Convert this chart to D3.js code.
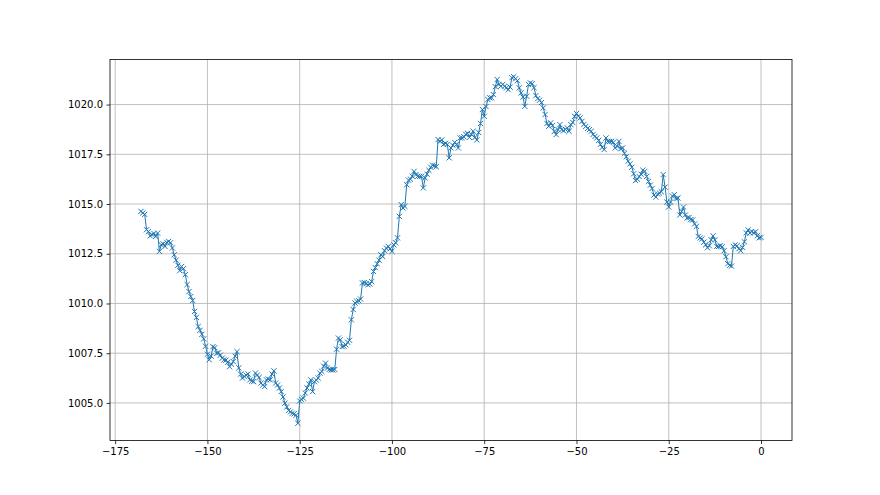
<!DOCTYPE html>
<html>
<head>
<meta charset="utf-8">
<script src="https://cdn.jsdelivr.net/npm/d3@7"></script>
<style>
  html, body { margin: 0; padding: 0; background: #fff; }
  svg { display: block; }
  .tick text { font-family: "DejaVu Sans", sans-serif; font-size: 10px; fill: #000; }
</style>
</head>
<body>
<svg id="chart" width="880" height="495"></svg>
<script>
// Pressure readings, one every half unit from -168 to 0
const pressure = [
  1014.63,1014.55,1014.48,1013.71,1013.62,1013.40,1013.46,1013.52,1013.37,1013.54,
  1012.62,1012.95,1013.00,1012.87,1013.07,1013.12,1013.05,1012.79,1012.45,1012.18,
  1011.92,1011.65,1011.86,1011.75,1011.45,1010.95,1010.60,1010.35,1010.15,1009.60,
  1009.30,1008.84,1008.65,1008.45,1008.22,1007.85,1007.45,1007.17,1007.35,1007.83,
  1007.78,1007.50,1007.52,1007.40,1007.25,1007.17,1007.15,1007.05,1006.82,1006.95,
  1007.08,1007.35,1007.58,1006.76,1006.45,1006.25,1006.33,1006.40,1006.45,1006.16,
  1006.10,1006.07,1006.50,1006.40,1006.28,1006.00,1005.90,1005.82,1006.16,1006.20,
  1006.16,1006.45,1006.61,1006.00,1005.90,1005.75,1005.57,1005.30,1004.99,1004.80,
  1004.62,1004.55,1004.48,1004.45,1004.38,1003.98,1005.10,1005.18,1005.24,1005.50,
  1005.75,1005.95,1006.16,1005.57,1006.07,1006.15,1006.25,1006.50,1006.58,1006.85,
  1007.00,1006.75,1006.68,1006.66,1006.66,1006.68,1007.70,1008.26,1008.17,1007.83,
  1007.85,1007.92,1008.05,1008.15,1009.18,1009.70,1010.02,1010.10,1010.14,1010.22,
  1011.03,1011.05,1011.00,1010.94,1010.98,1011.10,1011.61,1011.80,1012.00,1012.18,
  1012.45,1012.36,1012.65,1012.78,1012.87,1012.75,1012.62,1012.95,1013.05,1013.30,
  1014.38,1014.97,1014.80,1014.88,1015.97,1016.20,1016.25,1016.40,1016.64,1016.48,
  1016.40,1016.39,1016.39,1015.81,1016.31,1016.50,1016.70,1016.85,1016.95,1016.92,
  1016.88,1018.24,1018.15,1018.22,1018.00,1018.05,1018.00,1017.32,1017.82,1017.95,
  1018.10,1018.00,1017.82,1018.32,1018.33,1018.38,1018.50,1018.55,1018.35,1018.50,
  1018.66,1018.35,1018.22,1018.60,1019.05,1019.75,1019.41,1019.90,1020.25,1020.34,
  1020.34,1020.50,1020.90,1021.26,1021.01,1020.92,1021.01,1020.92,1020.84,1020.75,
  1020.88,1021.35,1021.40,1021.30,1021.20,1020.84,1020.59,1020.38,1019.91,1020.42,
  1021.01,1021.09,1021.05,1020.85,1020.45,1020.30,1020.22,1020.10,1019.83,1019.50,
  1019.05,1018.91,1019.08,1018.95,1018.65,1018.49,1018.74,1018.99,1018.74,1018.68,
  1018.75,1018.83,1018.66,1018.99,1019.10,1019.41,1019.55,1019.41,1019.33,1019.16,
  1019.00,1018.90,1018.80,1018.74,1018.66,1018.50,1018.40,1018.32,1018.20,1018.00,
  1017.85,1017.74,1018.32,1018.15,1018.15,1018.15,1018.10,1017.82,1017.90,1018.15,
  1017.78,1017.82,1017.55,1017.38,1017.15,1017.02,1016.85,1016.52,1016.18,1016.25,
  1016.38,1016.50,1016.70,1016.64,1016.39,1016.14,1015.95,1015.78,1015.45,1015.35,
  1015.50,1015.55,1015.62,1016.48,1015.85,1015.10,1014.85,1015.10,1015.40,1015.47,
  1015.28,1015.30,1014.45,1014.63,1014.85,1014.45,1014.30,1014.32,1014.22,1014.20,
  1014.00,1013.88,1013.37,1013.29,1013.25,1013.08,1012.95,1012.80,1012.90,1013.20,
  1013.40,1013.20,1012.87,1012.87,1012.90,1012.85,1012.65,1012.35,1012.00,1011.92,
  1011.88,1012.87,1012.95,1012.90,1012.75,1012.65,1012.82,1013.10,1013.55,1013.70,
  1013.54,1013.62,1013.55,1013.60,1013.40,1013.30,1013.32
];
// Time axis: half-unit steps ending at 0
const timeStep = 0.5;
const times = pressure.map((_, i) => -timeStep * (pressure.length - 1 - i));

const xTicks = [-175, -150, -125, -100, -75, -50, -25, 0];
const yTicks = [1005.0, 1007.5, 1010.0, 1012.5, 1015.0, 1017.5, 1020.0];

const W = 880, H = 495;
const m = { left: 110, right: 792, top: 59.4, bottom: 440.55 };

const svg = d3.select("#chart");

const xMin = d3.min(times), xMax = d3.max(times);
const xPad = (xMax - xMin) * 0.05;
const yMin = d3.min(pressure), yMax = d3.max(pressure);
const yPad = (yMax - yMin) * 0.05;

const x = d3.scaleLinear().domain([xMin - xPad, xMax + xPad]).range([m.left, m.right]);
const y = d3.scaleLinear().domain([yMin - yPad, yMax + yPad]).range([m.bottom, m.top]);

// grid
const grid = svg.append("g");
grid.selectAll(".gx").data(xTicks).join("line")
  .attr("x1", d => x(d)).attr("x2", d => x(d))
  .attr("y1", m.top).attr("y2", m.bottom)
  .attr("stroke", "#b0b0b0").attr("stroke-width", 0.8);
grid.selectAll(".gy").data(yTicks).join("line")
  .attr("x1", m.left).attr("x2", m.right)
  .attr("y1", d => y(d)).attr("y2", d => y(d))
  .attr("stroke", "#b0b0b0").attr("stroke-width", 0.8);

// line
const line = d3.line().x((d, i) => x(times[i])).y(d => y(d));
svg.append("path").datum(pressure)
  .attr("d", line).attr("fill", "none")
  .attr("stroke", "#1f77b4").attr("stroke-width", 1);

// x markers
const s = 2.6;
svg.append("g").selectAll("path").data(pressure).join("path")
  .attr("d", (d, i) => {
    const cx = x(times[i]), cy = y(d);
    return `M${cx - s},${cy - s}L${cx + s},${cy + s}M${cx - s},${cy + s}L${cx + s},${cy - s}`;
  })
  .attr("stroke", "#1f77b4").attr("stroke-width", 1).attr("fill", "none");

// frame
svg.append("rect")
  .attr("x", m.left).attr("y", m.top)
  .attr("width", m.right - m.left).attr("height", m.bottom - m.top)
  .attr("fill", "none").attr("stroke", "#000").attr("stroke-width", 0.8);

// axes
const fmtX = d => (d < 0 ? "\u2212" + Math.abs(d) : String(d));
const xAxis = d3.axisBottom(x).tickValues(xTicks).tickFormat(fmtX).tickSize(3.5).tickPadding(3.5);
const yAxis = d3.axisLeft(y).tickValues(yTicks).tickFormat(d3.format(".1f")).tickSize(3.5).tickPadding(3.5);

const gx = svg.append("g").attr("transform", `translate(0,${m.bottom})`).call(xAxis);
const gy = svg.append("g").attr("transform", `translate(${m.left},0)`).call(yAxis);
[gx, gy].forEach(g => {
  g.select(".domain").remove();
  g.selectAll(".tick line").attr("stroke", "#000").attr("stroke-width", 0.8);
});
</script>
</body>
</html>
